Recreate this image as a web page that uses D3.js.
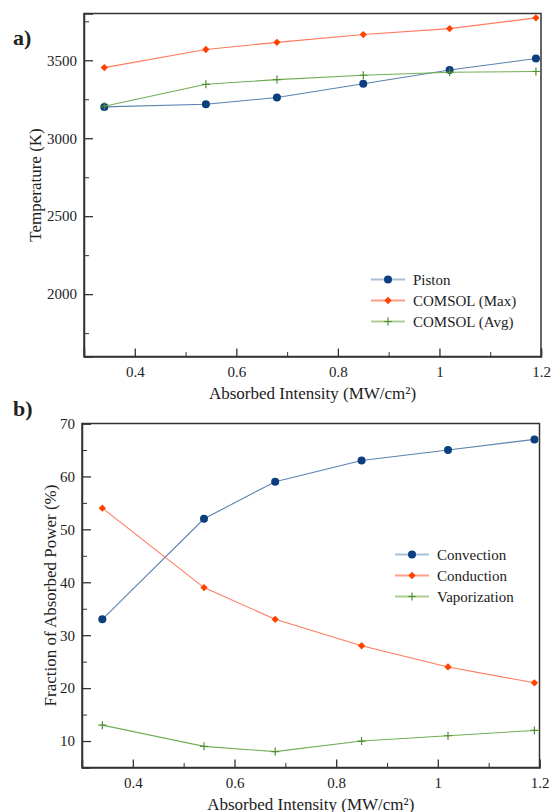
<!DOCTYPE html>
<html>
<head>
<meta charset="utf-8">
<script src="https://cdn.jsdelivr.net/npm/d3@7"></script>
<style>
  body { margin: 0; background: #fff; }
  .axis path, .axis line { stroke: #333; }
  .axis path { stroke-width: 1.5; }
</style>
</head>
<body>
<div id="chart"></div>
<script>
  'use strict';

  const FONT = "'Liberation Serif', 'DejaVu Serif', serif";

  // Absorbed intensity (MW/cm²), shared by both panels
  const intensity = [0.34, 0.54, 0.68, 0.85, 1.02, 1.19];

  // Panel a) temperatures (K)
  const piston = [3201, 3218, 3261, 3349, 3438, 3511];
  const comsolMax = [3453, 3569, 3615, 3665, 3703, 3772];
  const comsolAvg = [3205, 3346, 3376, 3404, 3423, 3428];

  // Panel b) fraction of absorbed power (%)
  const convection = [33, 52, 59, 63, 65, 67];
  const conduction = [54, 39, 33, 28, 24, 21];
  const vaporization = [13, 9, 8, 10, 11, 12];

  const xTicks = [0.4, 0.6, 0.8, 1, 1.2];
  const tempTicks = [2000, 2500, 3000, 3500];
  const fracTicks = [10, 20, 30, 40, 50, 60, 70];

  const styles = {
    blue:   { line: "#5b82b0", legend: "#a9c0da", mark: "#0b3f7e", shape: "circle" },
    orange: { line: "#ff7a5c", legend: "#ff9c85", mark: "#ff4200", shape: "diamond" },
    green:  { line: "#72ad55", legend: "#abd092", mark: "#4f8f2f", shape: "plus" }
  };

  const svg = d3.select("#chart").append("svg")
    .attr("width", 556)
    .attr("height", 812)
    .style("font-family", FONT);

  function drawMarker(g, shape, color, x, y) {
    if (shape === "circle") {
      g.append("circle").attr("cx", x).attr("cy", y).attr("r", 4).attr("fill", color);
    } else if (shape === "diamond") {
      g.append("path")
        .attr("d", d3.symbol().type(d3.symbolDiamond2).size(34)())
        .attr("transform", "translate(" + x + "," + y + ")")
        .attr("fill", color);
    } else {
      g.append("path")
        .attr("d", "M" + (x - 4) + "," + y + "H" + (x + 4) + "M" + x + "," + (y - 4) + "V" + (y + 4))
        .attr("stroke", color)
        .attr("stroke-width", 1.2)
        .attr("fill", "none");
    }
  }

  // d3 axes put their own font attributes on the group; drop them
  function serif(s) {
    s.attr("font-family", null).attr("font-size", null);
    s.selectAll("text")
      .style("font-family", FONT)
      .attr("font-size", 15)
      .attr("fill", "#222");
  }

  function panel(opt) {
    const m = opt.box;
    const width = m.right - m.left;
    const height = m.bottom - m.top;

    const x = d3.scaleLinear().domain([0.3, 1.2]).range([0, width]);
    const y = d3.scaleLinear().domain(opt.yDomain).range([height, 0]);

    const g = svg.append("g")
      .attr("transform", "translate(" + m.left + "," + m.top + ")");

    // minor ticks
    g.append("g").attr("class", "axis")
      .attr("transform", "translate(0," + height + ")")
      .call(d3.axisBottom(x).tickValues([0.5, 0.7, 0.9, 1.1]).tickSize(-4.5).tickFormat(""))
      .call(s => s.select(".domain").remove());
    g.append("g").attr("class", "axis")
      .call(d3.axisLeft(y).tickValues(opt.yMinor).tickSize(-5).tickFormat(""))
      .call(s => s.select(".domain").remove());

    // frame (top and right without ticks)
    g.append("rect")
      .attr("width", width).attr("height", height)
      .attr("fill", "none").attr("stroke", "#333").attr("stroke-width", 1.5);

    g.append("g").attr("class", "axis")
      .attr("transform", "translate(0," + height + ")")
      .call(d3.axisBottom(x).tickValues(xTicks).tickSize(-8).tickPadding(10)
        .tickFormat(d => d === 1 ? "1" : d3.format(".1f")(d)))
      .call(serif)
      .call(s => s.selectAll("line").attr("stroke-width", 1.3));

    g.append("g").attr("class", "axis")
      .call(d3.axisLeft(y).tickValues(opt.yTicks).tickSize(-9).tickPadding(7)
        .tickFormat(d3.format("d")))
      .call(serif)
      .call(s => s.selectAll("line").attr("stroke-width", 1.3));

    // axis titles
    g.append("text")
      .attr("x", width / 2)
      .attr("y", height + opt.xLabelDy)
      .attr("text-anchor", "middle")
      .attr("font-size", 17)
      .attr("fill", "#222")
      .text("Absorbed Intensity (MW/cm²)");

    g.append("text")
      .attr("transform", "rotate(-90)")
      .attr("x", -height / 2)
      .attr("y", opt.yLabelX - m.left)
      .attr("text-anchor", "middle")
      .attr("font-size", 17)
      .attr("fill", "#222")
      .text(opt.yLabel);

    // panel letter
    svg.append("text")
      .attr("x", opt.letter[0]).attr("y", opt.letter[1])
      .attr("font-size", 22).attr("font-weight", "bold")
      .attr("fill", "#222")
      .text(opt.letterText);

    const line = d3.line().x(d => x(d[0])).y(d => y(d[1]));

    opt.series.forEach(s => {
      const st = styles[s.style];
      const pts = intensity.map((v, i) => [v, s.values[i]]);
      g.append("path")
        .datum(pts)
        .attr("d", line)
        .attr("fill", "none")
        .attr("stroke", st.line)
        .attr("stroke-width", 1.1);
      pts.forEach(p => drawMarker(g, st.shape, st.mark, x(p[0]), y(p[1])));
    });

    // legend
    const lg = svg.append("g");
    opt.series.forEach((s, i) => {
      const st = styles[s.style];
      const ly = opt.legend.y + i * 21;
      lg.append("line")
        .attr("x1", opt.legend.x).attr("x2", opt.legend.x + 34)
        .attr("y1", ly).attr("y2", ly)
        .attr("stroke", st.legend).attr("stroke-width", 2);
      drawMarker(lg, st.shape, st.mark, opt.legend.x + 17, ly);
      lg.append("text")
        .attr("x", opt.legend.x + 42)
        .attr("y", ly + 5)
        .attr("font-size", 15)
        .attr("fill", "#222")
        .text(s.name);
    });
  }

  panel({
    box: { left: 84, right: 541, top: 13.5, bottom: 356.5 },
    yDomain: [1600, 3800],
    yTicks: tempTicks,
    yMinor: [1750, 2250, 2750, 3250, 3750],
    yLabel: "Temperature (K)",
    yLabelX: 41,
    xLabelDy: 42,
    letter: [13, 45],
    letterText: "a)",
    legend: { x: 371, y: 279.5 },
    series: [
      { name: "Piston", values: piston, style: "blue" },
      { name: "COMSOL (Max)", values: comsolMax, style: "orange" },
      { name: "COMSOL (Avg)", values: comsolAvg, style: "green" }
    ]
  });

  panel({
    box: { left: 82, right: 539.5, top: 423.5, bottom: 767.5 },
    yDomain: [5, 70],
    yTicks: fracTicks,
    yMinor: [15, 25, 35, 45, 55, 65],
    yLabel: "Fraction of Absorbed Power (%)",
    yLabelX: 56,
    xLabelDy: 42,
    letter: [13, 416],
    letterText: "b)",
    legend: { x: 395, y: 554.5 },
    series: [
      { name: "Convection", values: convection, style: "blue" },
      { name: "Conduction", values: conduction, style: "orange" },
      { name: "Vaporization", values: vaporization, style: "green" }
    ]
  });
</script>
</body>
</html>
